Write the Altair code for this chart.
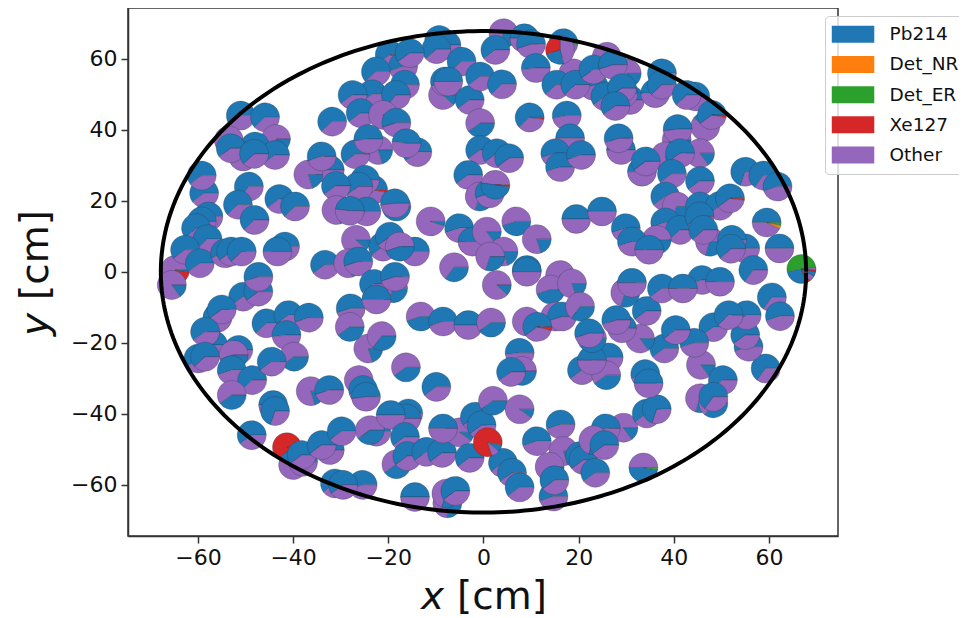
import math
import altair as alt
import pandas as pd

CATEGORIES = ["Pb214", "Det_NR", "Det_ER", "Xe127", "Other"]
COLORS = ["#1f77b4", "#ff7f0e", "#2ca02c", "#d62728", "#9467bd"]
TICKS = [-60, -40, -20, 0, 20, 40, 60]
RADIUS_CM = 67.8

# Fraction is Pb214's share; a negative sign means the Other wedge comes first.
ul_x = [-9.3,-7.8,-9.9,-16.9,-15.5,-4.6,-8.5,-8.1,-7.4,-22.6,-16.5,-23.4,-27.5,-18.4,-25.8,-21.1,-18.3,-31.8,-51,-45.9,-22.1,-26.9,-24.2,-13.9,-16.2,-43.6,-53.5,-48,-50.5,-43.8,-53.1,-48.2,-58.7,-59.2,-49.3,-51.6,-48.1,-42.9,-39.6,-32.3,-36.8,-34,-24.9,-26.3,-31,-30.9,-24.6,-28.1,-18.3,-18.6,-11.1,-5.1,-2.3,-26.8,-21.1,-19.7,-14.4,-17.6,-41.7,-43.3,-57.8,-59.2,-60.4,-58,-62.7,-59.6,-54.3,-53,-50.8,-33.3,-28.4,-26.3,-6.2,-2.9,-0.7,-0.7,-0.7,-3.2,-0.8]
ul_y = [65.3,63.9,62.7,57.8,61.6,59.2,49.8,53.6,53.6,56.4,52.7,50,49.8,49.8,44.7,44.2,42,42.3,44,43.5,34.3,33.1,37.4,33.7,36.2,37.4,37,35.3,32.5,32.9,34.8,33.2,22.1,27.1,24,18.9,14.6,20.5,18.4,28.7,27.4,32.5,25.9,24,24.2,17.4,17,17.2,18.4,19.3,14.2,12.3,8.5,9,7.1,9.9,5.7,7.1,7.1,5.7,15.6,14.2,12.3,9.2,6.2,2.4,5.2,5.7,5.7,2,2.4,2.9,1.3,48.4,55,41.9,34.3,27.3,21.2]
ul_f = [.6,.55,.62,.55,.6,.62,-.12,.55,.5,.62,.6,.6,.6,.65,.6,-.2,.55,.62,.6,.62,-.2,.6,.52,.6,.48,-.2,-.3,.6,.5,.6,.6,.62,.6,.6,.65,.62,.62,.6,.62,.5,-.2,.55,.6,.6,.6,-.2,.55,.48,-.5,.52,-.05,.55,.5,-.12,.6,.6,.5,-.45,.55,.5,.5,.6,.62,.62,.6,.6,.55,.6,.62,.6,-.2,.55,-.35,.6,.6,-.4,.6,.6,-.3]

ur_x = [4.2,8.6,2.5,10,11,3.9,18.9,15.3,23.1,19.3,25.9,30.1,23.1,27.2,25.6,30.8,29.4,29.1,27.7,36.1,37.5,37.5,44.5,42.7,46.6,17.5,18.2,15.1,16.1,20.5,2.8,5.4,28.9,28.4,40.6,40.8,38.2,45.5,41.3,33.3,34.1,39.6,45.5,55,58.8,61.8,38.2,40.6,45.5,49.7,38.2,41.3,47.6,45.4,46.2,55,52.2,52,29.9,36.4,31.2,34.8,62.2,19.5,24.9,6.9,11.2,0.7,4.2,1.4,1.3,9.1]
ur_y = [67.2,65.8,62.5,64.1,57.4,52.8,55.9,52.7,52.4,52.7,60.6,55.9,57,58.3,49.4,48.4,50.3,51.7,46.7,50.3,55.9,52.7,49.4,49.8,40.9,44,37.6,33.4,29.5,32.9,33.4,32,34.3,37.6,37.2,40.2,32.5,33.4,33.4,28.2,31.1,27.6,25.6,28.2,27.1,24,21.2,18.4,18.4,18.6,13.9,11.8,8.5,15.6,11.8,6.6,9,6.5,12.3,9,8.5,6.2,6.6,14.9,17,14.2,9.2,11.3,5.7,4.3,22.1,.5]
ur_f = [-.3,.5,.6,.55,.52,.62,-.4,.62,.52,.62,-.3,-.3,.6,.55,.6,.55,.6,.6,.6,.5,.62,.62,.55,.62,.4,.53,.5,.55,.55,.55,.6,.6,.5,.55,-.45,.52,-.2,-.15,.6,.5,.6,.6,.6,.7,.65,.55,.6,-.3,.6,.6,.55,.62,-.3,.6,.62,.6,.6,.62,.55,-.3,.55,.5,.5,.5,.5,-.45,-.2,-.15,-.2,-.3,.55,.5]

ll_x = [-65.5,-50.5,-47.3,-47.3,-55.9,-55,-56.8,-58.5,-59.9,-58.5,-51.5,-52.5,-52.9,-48.6,-52.9,-45.6,-41,-36.7,-41.4,-39.8,-44.5,-44.2,-43.8,-48.7,-40,-37.9,-38.2,-32.3,-34,-29.8,-22.5,-23.9,-15.8,-16.2,-19.5,-16.5,-18.3,-16,-12,-8.7,-5,-8.5,-2.9,-1.8,-0.4,-31.2,-25.4,-29.5,-14.4,-7.6,-7.8,-5.9,-36.3,-32.4,-26.2,-25.3,-24.7,-16.3,-9.9,-24.2,-21.4,-27.9,-28.1,-19,-23,-22.5,-18.6,-13.2,-8.5,-3.2]
ll_y = [-3.7,-7,-5.6,-1.4,-12.9,-10.6,-20.6,-16.9,-24.4,-23.9,-22,-23.4,-27.7,-30.5,-34.7,-14.5,-12.2,-12.9,-17.8,-23.9,-25.3,-37.5,-39.2,-46,-54.4,-53.5,-51.6,-50.2,-48.8,-44.9,-45,-44.6,-39.9,-41.3,-40.3,-46.5,-54.2,-51.9,-50.7,-51,-45.2,-44.1,-52.4,-40.8,-43.2,-59.6,-60,-60,-63.4,-65.2,-62.4,-61.7,-33.6,-33.3,-30.5,-33.3,-35.2,-26.9,-32.4,-21.6,-18.1,-10.3,-15.5,-4.6,-3.4,-7.8,-1.4,-12.6,-14,-15]
ll_f = [-.15,.6,.6,.55,.5,.6,.5,.6,.6,.62,.6,-.45,.55,.62,-.4,.62,.6,.55,.52,-.4,.6,.5,.7,.6,.45,.55,.6,.55,.6,.6,.6,-.4,.55,.55,.5,.6,-.4,.6,.6,.6,-.1,.5,.6,.6,.6,.6,.55,.6,.5,-.25,-.3,.6,-.2,.55,-.15,.55,.52,-.4,.6,-.2,-.35,.55,-.4,-.3,.6,.5,.55,-.45,.55,.5]

lr_x = [2.8,9.1,16.1,14.1,18.6,15.1,16.5,20.3,1.6,9.1,7.6,8.1,5.8,2,7.6,11.2,16.2,4.1,6,7.6,16.8,20.3,21,23.5,29.4,25.7,23.1,25.4,13.9,14.7,14.9,34.3,36.4,34,34.7,45.7,50.3,45.5,48.3,48.3,59.3,55.7,55,55.3,48.3,51.5,44.3,38,40.4,32.9,34.3,29.1,27.9,29.8,31.2,37.5,45.9,41.9,49.7,60.6,62.3,56.7,20.7,26.3,25.8,22.8,22.8,22.2]
lr_y = [-3.7,0,-.9,-5,-3.3,-12.6,-12.6,-9.8,-14.3,-14,-22.8,-27.9,-28.2,-36.3,-38.7,-47.7,-43,-53.8,-56.6,-60.7,-50.5,-51.9,-53,-56.6,-43.9,-44.1,-47.4,-48.8,-54.9,-63.3,-58.7,-39.9,-38.7,-28.8,-31.4,-26.2,-30.5,-35.6,-37,-35.2,-27.2,-21.1,-17.8,-12.2,-15.6,-12.2,-20,-21.6,-16.4,-18.8,-11,-15.9,-13.6,-5.9,-3.1,-4.7,-2.3,-4.7,-2.8,-7.2,-12.5,.5,-27.7,-24.1,-29.1,-24.9,-18.7,-17.3]
lr_f = [-.12,.5,-.3,-.45,-.2,-.2,.55,-.35,-.4,-.1,.52,-.3,.6,-.4,-.1,.55,.55,.6,.6,.6,-.2,.6,.6,.6,-.15,.55,-.3,.6,-.3,.55,.6,.6,.7,.55,.5,-.15,.6,-.3,-.35,.65,.65,.55,.6,.6,.6,.62,.55,.6,.6,-.15,.6,.5,.55,-.3,.5,.6,.55,.5,.5,.65,.55,.65,.6,.5,-.4,.5,-.4,.55]

# Pies with more than two sources: (x, y, start fraction, wedges counter-clockwise).
special_under = [
    (-41.3, -49.4, 0.0, [("Pb214", .02), ("Xe127", .95), ("Other", .03)]),
    (-64.8, 0.5, 0.0, [("Other", .79), ("Xe127", .19), ("Pb214", .02)]),
    (-19.7, 61.1, 0.0, [("Pb214", .6), ("Other", .37), ("Xe127", .03)]),
    (-23.2, 23.1, 0.0, [("Pb214", .55), ("Other", .42), ("Xe127", .03)]),
    (16.8, 64.4, 0.0, [("Pb214", .6), ("Other", .38), ("Det_ER", .02)]),
]
special_over = [
    (0.9, -48.0, .89, [("Pb214", .08), ("Xe127", .83), ("Other", .09)]),
    (16.1, 62.5, .79, [("Other", .46), ("Xe127", .30), ("Pb214", .24)]),
    (48.0, 44.2, 0.0, [("Pb214", .6), ("Other", .37), ("Xe127", .03)]),
    (9.7, 43.5, 0.0, [("Pb214", .62), ("Other", .36), ("Xe127", .02)]),
    (2.5, 24.5, 0.0, [("Other", .48), ("Pb214", .5), ("Xe127", .02)]),
    (51.8, 20.7, 0.0, [("Pb214", .6), ("Other", .38), ("Xe127", .02)]),
    (11.3, -15.5, 0.0, [("Pb214", .6), ("Other", .36), ("Xe127", .04)]),
    (59.5, 13.9, 0.0, [("Pb214", .5), ("Other", .43), ("Det_NR", .04), ("Det_ER", .03)]),
    (33.6, -55.1, 0.0, [("Other", .5), ("Pb214", .47), ("Det_ER", .03)]),
    (66.8, 0.8, .53, [("Pb214", .28), ("Det_ER", .72)]),
    (66.8, 0.8, .80, [("Xe127", .05), ("Other", .07), ("Pb214", .05), ("Xe127", .02), ("Other", .03)]),
]

rows = []


def add_pie(x, y, start, wedges):
    position = start
    for source, share in wedges:
        rows.append({
            "x": x,
            "y": y,
            "source": source,
            "t0": math.pi / 2 - 2 * math.pi * position,
            "t1": math.pi / 2 - 2 * math.pi * (position + share),
        })
        position += share


for x, y, start, wedges in special_under:
    add_pie(x, y, start, wedges)
for xs, ys, fs in [(ul_x, ul_y, ul_f), (ur_x, ur_y, ur_f), (ll_x, ll_y, ll_f), (lr_x, lr_y, lr_f)]:
    for x, y, f in zip(xs, ys, fs):
        if f >= 0:
            add_pie(x, y, 0.0, [("Pb214", f), ("Other", 1 - f)])
        else:
            add_pie(x, y, 0.0, [("Other", 1 + f), ("Pb214", -f)])
for x, y, start, wedges in special_over:
    add_pie(x, y, start, wedges)

df = pd.DataFrame(rows)

x_scale = alt.Scale(domain=[-74.7, 74.5], nice=False, zero=False)
y_scale = alt.Scale(domain=[-74.4, 74.3], nice=False, zero=False)

pies = alt.Chart(df).mark_arc(
    radius=14.5, stroke="#26323c", strokeWidth=0.5, strokeOpacity=0.55
).encode(
    x=alt.X("x:Q", scale=x_scale, axis=alt.Axis(values=TICKS, title=None, grid=False)),
    y=alt.Y("y:Q", scale=y_scale, axis=alt.Axis(values=TICKS, title=None, grid=False)),
    theta=alt.Theta("t0:Q", scale=None),
    theta2=alt.Theta2("t1:Q"),
    color=alt.Color(
        "source:N",
        scale=alt.Scale(domain=CATEGORIES, range=COLORS),
        legend=alt.Legend(
            title=None,
            orient="none",
            legendX=697,
            legendY=8,
            symbolType="M-1.35,-1H3.65V1H-1.35Z",
            symbolSize=289,
            symbolStrokeWidth=0,
            symbolOpacity=1,
            labelFont="DejaVu Sans",
            labelFontSize=18.5,
            labelColor="#111",
            labelOffset=37,
            rowPadding=11.2,
            padding=9,
            fillColor="rgba(255,255,255,0.8)",
            strokeColor="#cccccc",
            cornerRadius=4,
        ),
    ),
)

boundary = alt.Chart(alt.sequence(0, 6.3, 0.02, as_="t")).transform_calculate(
    cx=f"{RADIUS_CM} * cos(datum.t)", cy=f"{RADIUS_CM} * sin(datum.t)"
).mark_line(color="black", strokeWidth=4).encode(
    x=alt.X("cx:Q", scale=x_scale),
    y=alt.Y("cy:Q", scale=y_scale),
    order=alt.Order("t:Q"),
)


def label(text, px, py, angle=0, italic=False):
    return alt.Chart(pd.DataFrame({"k": [0]})).mark_text(
        text=text, fontSize=39, font="DejaVu Sans", color="#111", align="left",
        baseline="alphabetic", angle=angle, fontStyle="italic" if italic else "normal",
    ).encode(x=alt.value(px), y=alt.value(py))


chart = alt.layer(
    pies,
    boundary,
    label("x", 293, 601, italic=True),
    label("[cm]", 329, 601),
    label("y", -80, 328, angle=270, italic=True),
    label("[cm]", -80, 292, angle=270),
).properties(
    width=710,
    height=528,
    autosize=alt.AutoSizeParams(type="none"),
    padding={"left": 120, "right": 121, "top": 0, "bottom": 82},
).configure_view(stroke="#333333", strokeWidth=1.5).configure_axis(
    tickSize=7, tickWidth=1.5, tickColor="#333333", domainColor="#333333", domainWidth=1.5,
    labelFont="DejaVu Sans", labelFontSize=22, labelColor="#111", labelPadding=4,
    labelOverlap=False,
)

chart.save("out.html", embed_options={"renderer": "svg", "actions": False})
